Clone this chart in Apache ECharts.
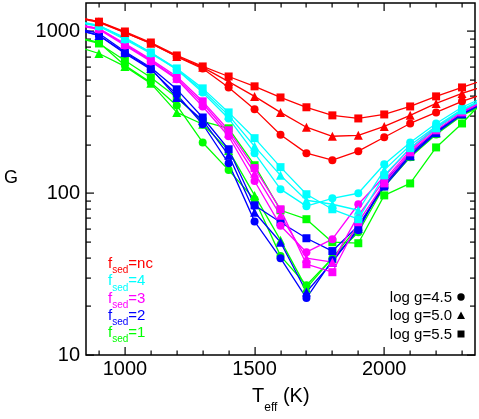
<!DOCTYPE html>
<html><head><meta charset="utf-8">
<script src="https://cdn.jsdelivr.net/npm/echarts@6/dist/echarts.min.js"></script>
<style>html,body{margin:0;padding:0;background:#fff}#c{width:479px;height:419px}</style>
</head><body><div id="c"></div>
<script>
const FONT = 'Liberation Sans, Arial, Helvetica, sans-serif';
const teff = [800,900,1000,1100,1200,1300,1400,1500,1600,1700,1800,1900,2000,2100,2200,2300,2400];

// f_sed = nc
const nc_g45 = [1220,1140,985,845,700,590,450,330,230,177,160,182,222,270,316,370,420];
const nc_g50 = [1240,1150,985,845,700,600,490,397,316,256,225,228,259,303,359,414,468];
const nc_g55 = [1240,1150,1000,855,711,608,527,458,391,340,303,290,307,344,397,451,510];
// f_sed = 4
const f4_g45 = [1153,1074,892,731,583,420,290,177,106,83.2,93.1,100,151,206,270,340,403];
const f4_g50 = [1153,1089,905,742,583,432,303,195,129,90.5,85.5,78.5,139,198,259,330,397];
const f4_g55 = [1170,1089,918,742,591,445,316,219,145,98.6,79.6,69.1,129,190,252,325,391];
// f_sed = 3
const f3_g45 = [1105,1029,820,653,506,344,225,119,63,43.2,52,85.5,127,190,256,325,391];
const f3_g50 = [1120,1043,831,662,513,359,235,133,73,39.7,37.5,73,120,184,252,321,386];
const f3_g55 = [1120,1043,843,672,527,370,245,143,79.6,36.4,32.5,66.2,115,179,245,316,380];
// f_sed = 2
const f2_g45 = [1043,945,731,583,408,267,153,67,39.7,22.5,38.6,59.1,117,177,241,316,380];
const f2_g50 = [1043,945,742,591,391,282,172,76.3,49.8,24.5,37.5,60.8,114,172,238,312,375];
const f2_g55 = [1058,972,752,599,439,294,187,84.2,66.2,52.7,43.9,63,110,169,235,307,370];
// f_sed = 1
const f1_g45 = [931,855,617,484,349,206,139,91.8,41,27,39.7,57.4,110,167,231,303,359];
const f1_g50 = [820,731,608,478,316,267,184,97,51.3,25.9,39.7,62.5,114,169,235,307,364];
const f1_g55 = [931,843,662,520,391,278,252,149,78.5,69.1,49.8,49.1,97,115,192,270,400];

// ticks / labels
const xMajorTicks = [1000,1500,2000];
const xMinorTicks = [900,1100,1200,1300,1400,1600,1700,1800,1900,2100,2200,2300];
const yMajorTicks = [10,100,1000];
const yMinorTicks = [20,30,40,50,60,70,80,90,200,300,400,500,600,700,800,900];
const fsedLabels = ['nc','4','3','2','1'];
const fsedColors = ['#ff0000','#00ffff','#ff00ff','#0000ff','#00ff00'];
const loggLabels = ['log g=4.5','log g=5.0','log g=5.5'];

const groups = [
  {color:'#00ff00', sets:[f1_g45,f1_g50,f1_g55]},
  {color:'#0000ff', sets:[f2_g45,f2_g50,f2_g55]},
  {color:'#ff00ff', sets:[f3_g45,f3_g50,f3_g55]},
  {color:'#00ffff', sets:[f4_g45,f4_g50,f4_g55]},
  {color:'#ff0000', sets:[nc_g45,nc_g50,nc_g55]}
];
const symbols = ['circle','triangle','rect'];
const symSizes = [8,9,8];

const series = [];
groups.forEach(g => {
  g.sets.forEach((arr, k) => {
    series.push({
      type:'line', data: teff.map((t,i)=>[t, arr[i]]),
      symbol: symbols[k], symbolSize: symSizes[k],
      lineStyle:{color:g.color, width:1.3}, itemStyle:{color:g.color},
      silent:true, clip:true
    });
  });
});

const XMIN = 850, XMAX = 2350, YMIN = 10, YMAX = 1500;
const G_LEFT = 86, G_RIGHT = 4, G_TOP = 3, G_BOTTOM = 64, W = 479, H = 419;
const gl = G_LEFT, gr = W - G_RIGHT, gt = G_TOP, gb = H - G_BOTTOM;

const graphic = [];
fsedLabels.forEach((lab, i) => {
  const c = fsedColors[i];
  graphic.push({type:'text', x:108, y:256.5 + i*17.3, silent:true, style:{
    text:'{m|f}{s|sed}{m|=' + lab + '}', align:'left', verticalAlign:'top',
    rich:{
      m:{fontSize:15, lineHeight:19, verticalAlign:'top', fill:c, fontFamily:FONT},
      s:{fontSize:10, lineHeight:10, verticalAlign:'bottom', fill:c, fontFamily:FONT}
    }
  }});
});
loggLabels.forEach((lab, i) => {
  graphic.push({type:'text', x:452, y:298 + i*18.3, silent:true, style:{
    text:lab, align:'right', verticalAlign:'middle', fontSize:15, fill:'#000', fontFamily:FONT
  }});
});
graphic.push({type:'circle', silent:true, shape:{cx:461, cy:297, r:3.7}, style:{fill:'#000'}});
graphic.push({type:'polygon', silent:true, shape:{points:[[461,311.5],[457,319],[465,319]]}, style:{fill:'#000'}});
graphic.push({type:'rect', silent:true, shape:{x:457.5, y:330.5, width:7, height:7}, style:{fill:'#000'}});
graphic.push({type:'text', x:252, y:386, silent:true, style:{
  text:'{m|T}{s|eff}{m| (K)}', align:'left', verticalAlign:'top',
  rich:{
    m:{fontSize:20, lineHeight:28, verticalAlign:'top', fill:'#000', fontFamily:FONT},
    s:{fontSize:12, lineHeight:12, verticalAlign:'bottom', fill:'#000', fontFamily:FONT}
  }
}});
graphic.push({type:'text', x:11, y:178, silent:true, style:{
  text:'G', align:'center', verticalAlign:'middle', fontSize:18, fill:'#000', fontFamily:FONT
}});

// tick marks: same linear (x) and log10 (y) mapping as the axes
const xPix = v => gl + (v - XMIN) / (XMAX - XMIN) * (gr - gl);
const yPix = v => gb - (Math.log10(v) - Math.log10(YMIN)) / (Math.log10(YMAX) - Math.log10(YMIN)) * (gb - gt);
function trect(x, y, w, h){
  graphic.push({type:'rect', silent:true, shape:{x:x, y:y, width:w, height:h}, style:{fill:'#000'}});
}
function xt(v, len){ const x = Math.round(xPix(v)); trect(x - 0.5, gb - len, 1.2, len); trect(x - 0.5, gt, 1.2, len); }
function yt(v, len){ const y = Math.round(yPix(v)); trect(gl, y - 0.5, len, 1.2); trect(gr - len, y - 0.5, len, 1.2); }
xMinorTicks.forEach(v => xt(v, 4.5));
xMajorTicks.forEach(v => xt(v, 8));
yMinorTicks.forEach(v => yt(v, 5));
yMajorTicks.forEach(v => yt(v, 8));

const option = {
  animation:false,
  backgroundColor:'#fff',
  textStyle:{fontFamily:FONT},
  grid:{left:G_LEFT, right:G_RIGHT, top:G_TOP, bottom:G_BOTTOM, show:true, borderColor:'#000', borderWidth:1.5, backgroundColor:'transparent'},
  xAxis:{type:'value', min:XMIN, max:XMAX, interval:50,
    axisLine:{show:false, onZero:false}, axisTick:{show:false}, splitLine:{show:false},
    axisLabel:{fontSize:20, color:'#000', margin:4, fontFamily:FONT,
      formatter:v => (xMajorTicks.indexOf(Math.round(v)) >= 0 ? String(Math.round(v)) : '')}
  },
  yAxis:{type:'log', logBase:10, min:YMIN, max:YMAX,
    axisLine:{show:false, onZero:false}, axisTick:{show:false}, splitLine:{show:false}, minorTick:{show:false},
    axisLabel:{fontSize:20, color:'#000', margin:6, fontFamily:FONT,
      formatter:v => { const l = Math.log10(v); const r = Math.round(l);
        return (Math.abs(l-r) < 1e-6 && yMajorTicks.indexOf(Math.round(Math.pow(10,r))) >= 0) ? String(Math.round(Math.pow(10,r))) : ''; }}
  },
  series: series,
  graphic: graphic
};
const chart = echarts.init(document.getElementById('c'), null, {renderer:'canvas'});
chart.setOption(option);
</script>
</body></html>
